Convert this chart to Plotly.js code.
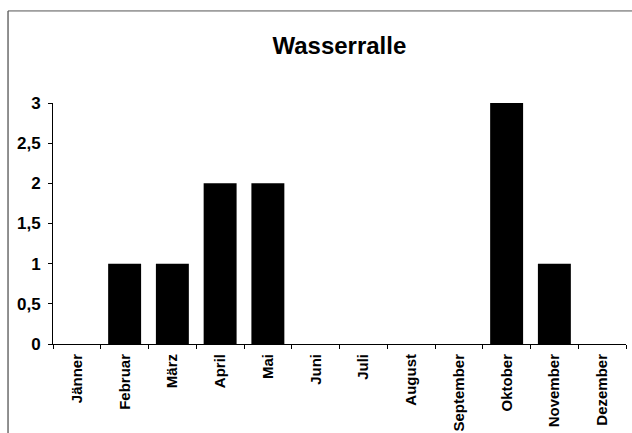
<!DOCTYPE html>
<html>
<head>
<meta charset="utf-8">
<script src="https://cdn.plot.ly/plotly-3.0.1.min.js"></script>
<style>html,body{margin:0;padding:0;background:#fff;}#chart{width:632px;height:433px;}</style>
</head>
<body>
<div id="chart"></div>
<script>
const months = ["Jänner","Februar","März","April","Mai","Juni","Juli","August","September","Oktober","November","Dezember"];
const counts = [0, 1, 1, 2, 2, 0, 0, 0, 0, 3, 1, 0];
const yTicks = [0, 0.5, 1, 1.5, 2, 2.5, 3];
const chartTitle = "Wasserralle";

const fontFam = "Liberation Sans, Arial, sans-serif";
const boundaries = months.slice(0, -1).map((m, i) => i + 0.5);

const data = [{
  type: "bar",
  x: months,
  y: counts,
  marker: {color: "#000000", line: {width: 0}},
  hoverinfo: "x+y"
}];

const layout = {
  width: 632, height: 433,
  margin: {l: 53, r: 6, t: 103, b: 89},
  paper_bgcolor: "#ffffff", plot_bgcolor: "#ffffff",
  separators: ",.",
  showlegend: false,
  bargap: 0.31,
  title: {text: chartTitle, x: 0.537, xanchor: "center", y: 0.894, yanchor: "middle",
          font: {family: fontFam, size: 24, color: "#000", weight: "bold"}},
  xaxis: {
    type: "category", categoryorder: "array", categoryarray: months,
    showgrid: false, zeroline: false, showline: true, linecolor: "#000", linewidth: 1,
    ticks: "outside", tickson: "boundaries", ticklen: 4, tickcolor: "#000", tickwidth: 1,
    tickangle: -90, ticklabelstandoff: 3,
    tickfont: {family: fontFam, size: 15, color: "#000", weight: "bold"},
    fixedrange: true
  },
  yaxis: {
    range: [0, 3], tickvals: yTicks, ticktext: yTicks.map(v => String(v).replace(".", ",")),
    showgrid: false, zeroline: false, showline: true, linecolor: "#000", linewidth: 1,
    ticks: "outside", ticklen: 4, tickcolor: "#000", tickwidth: 1, ticklabelstandoff: 4,
    tickfont: {family: fontFam, size: 17, color: "#000", weight: "bold"},
    fixedrange: true
  },
  xaxis2: {
    overlaying: "x", anchor: "y", side: "bottom", range: [-0.5, 11.5],
    tickvals: boundaries, ticks: "inside", ticklen: 4, tickcolor: "#000",
    showticklabels: false, showgrid: false, zeroline: false, showline: false, fixedrange: true
  },
  yaxis2: {
    overlaying: "y", anchor: "x", side: "left", range: [0, 3],
    tickvals: yTicks, ticks: "inside", ticklen: 4, tickcolor: "#000",
    showticklabels: false, showgrid: false, zeroline: false, showline: false, fixedrange: true
  },
  shapes: [
    {type: "line", xref: "paper", yref: "paper", x0: -0.0785, x1: -0.0785, y0: 1.382, y1: -0.5,
     line: {color: "#222", width: 1}},
    {type: "line", xref: "paper", yref: "paper", x0: -0.0785, x1: 1.02, y0: 1.382, y1: 1.382,
     line: {color: "#555", width: 1}}
  ]
};

Plotly.newPlot("chart", data, layout, {displayModeBar: false, staticPlot: true});
</script>
</body>
</html>
